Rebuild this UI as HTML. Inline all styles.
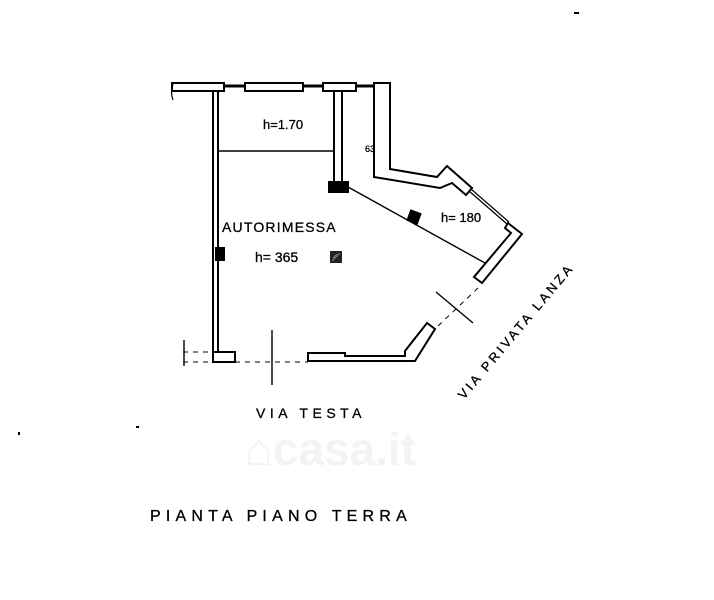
<!DOCTYPE html>
<html><head><style>body{margin:0;background:#fff}svg{display:block}</style></head><body>
<svg width="714" height="600" viewBox="0 0 714 600" xmlns="http://www.w3.org/2000/svg" font-family="Liberation Sans, sans-serif">
<text x="245" y="465" font-size="46" fill="#f3f3f3" font-weight="bold">⌂casa.it</text>
<g fill="none" stroke="#000" stroke-width="2">
<rect x="172" y="83" width="52" height="8"/>
<line x1="224" y1="86" x2="245" y2="86" stroke-width="3"/>
<rect x="245" y="83" width="58" height="8"/>
<line x1="303" y1="86" x2="323" y2="86" stroke-width="3"/>
<rect x="323" y="83" width="33" height="8"/>
<line x1="356" y1="86" x2="374" y2="86" stroke-width="3"/>
<path d="M173 84 Q170 92 173 100" stroke-width="1.2"/>
<rect x="213" y="91" width="5" height="261"/>
<rect x="213" y="352" width="22" height="10"/>
<rect x="216" y="248" width="8" height="12" fill="#000"/>
<rect x="334" y="91" width="8" height="91"/>
<rect x="329" y="182" width="19" height="10" fill="#000"/>
<line x1="218" y1="151" x2="334" y2="151" stroke-width="1.4"/>
<path d="M374 83 L390 83 L390 169 L437 177 L447 166 L472 188 L466 195 L452 183 L440 188 L374 177 Z"/>
<line x1="469" y1="191" x2="507" y2="224" stroke-width="1.2"/>
<line x1="471" y1="189" x2="509" y2="222" stroke-width="1.2"/>
<path d="M508 223 L522 234 L482 283 L474 277 L511 233 L505 228 Z"/>
<line x1="348" y1="187" x2="485" y2="263" stroke-width="1.4"/>
<rect x="409" y="212" width="10" height="10" fill="#000" transform="rotate(20 414 217)"/>
<path d="M308 353 L345 353 L345 356 L405 356 L405 351 L427 323 L435 329 L415 361 L308 361 Z"/>
<g stroke-width="1" stroke-dasharray="5,5">
<line x1="478" y1="288" x2="437" y2="327"/>
<line x1="183" y1="352" x2="213" y2="352"/>
<line x1="183" y1="362" x2="213" y2="362"/>
<line x1="235" y1="362" x2="308" y2="362"/>
</g>
<line x1="436" y1="292" x2="473" y2="323" stroke-width="1.4"/>
<line x1="272" y1="330" x2="272" y2="385" stroke-width="1.4"/>
<line x1="184" y1="340" x2="184" y2="366" stroke-width="1.4"/>
</g>
<rect x="330" y="251" width="12" height="12" fill="#222"/>
<g stroke="#888" stroke-width="1"><line x1="332" y1="261" x2="340" y2="253"/><line x1="333" y1="258" x2="337" y2="254"/></g>
<g fill="#000" font-size="13" stroke="#000" stroke-width="0.3">
<text x="263" y="129">h=1.70</text>
<text x="222" y="232" font-size="14" letter-spacing="1.2">AUTORIMESSA</text>
<text x="255" y="262" font-size="14">h= 365</text>
<text x="441" y="222">h= 180</text>
<text x="365" y="152" font-size="9">63</text>
<text x="256" y="418" font-size="14" letter-spacing="4.5">VIA TESTA</text>
<text x="150" y="521" font-size="16" letter-spacing="5.2">PIANTA PIANO TERRA</text>
<text x="0" y="0" font-size="13" letter-spacing="3" transform="translate(464,400) rotate(-50)">VIA PRIVATA LANZA</text>
</g>
<g fill="#000"><rect x="574" y="12" width="5" height="2"/><rect x="18" y="432" width="2" height="3"/><rect x="136" y="426" width="3" height="2"/></g>
</svg>
</body></html>
